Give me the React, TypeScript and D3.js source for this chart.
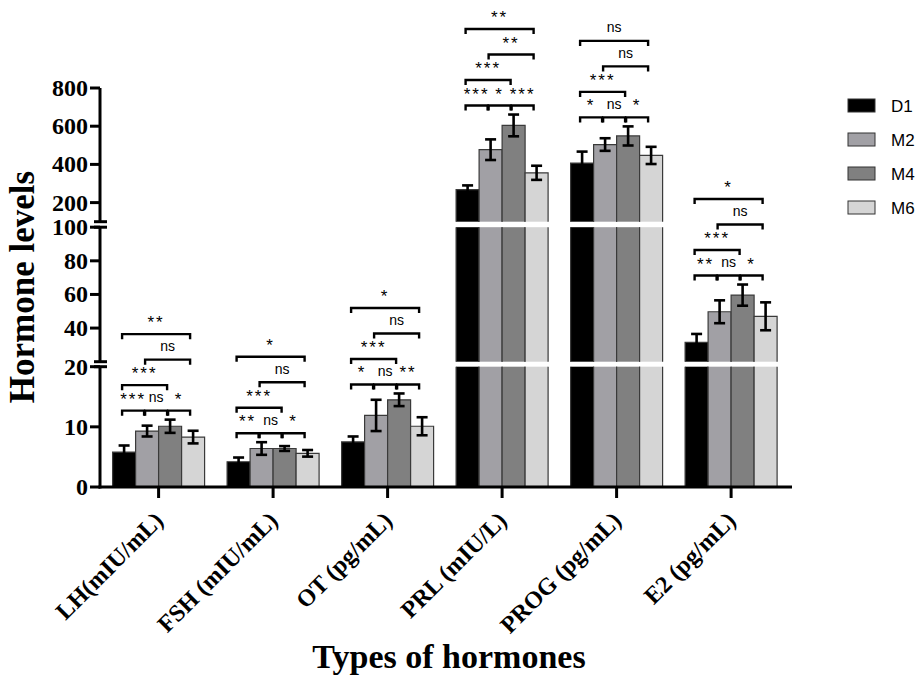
import * as d3 from "d3";

// chart data
const categories = ["LH(mIU/mL)", "FSH (mIU/mL)", "OT (pg/mL)", "PRL (mIU/L)", "PROG (pg/mL)", "E2 (pg/mL)"];
const series = ["D1", "M2", "M4", "M6"];
const meanD1 = [5.8, 4.2, 7.5, 268, 407, 31.5];
const meanM2 = [9.3, 6.4, 11.9, 477, 504, 49.7];
const meanM4 = [10.1, 6.4, 14.5, 604, 549, 59.6];
const meanM6 = [8.3, 5.6, 10.1, 356, 447, 47];
const errD1 = [1.1, 0.7, 0.9, 22, 60, 5];
const errM2 = [0.9, 1.05, 2.6, 54, 33, 6.8];
const errM4 = [1.1, 0.4, 1.05, 57, 50, 6.3];
const errM6 = [1.05, 0.55, 1.5, 37, 45, 8.3];
// comparisons: D1-M2, M2-M4, M4-M6, D1-M4, M2-M6, D1-M6
const pairs = [[0, 1, 0], [1, 2, 0], [2, 3, 0], [0, 2, 1], [1, 3, 2], [0, 3, 3]];
const sigLH = ["***", "ns", "*", "***", "ns", "**"];
const sigFSH = ["**", "ns", "*", "***", "ns", "*"];
const sigOT = ["*", "ns", "**", "***", "ns", "*"];
const sigPRL = ["***", "*", "***", "***", "**", "**"];
const sigPROG = ["*", "ns", "*", "***", "ns", "ns"];
const sigE2 = ["**", "ns", "*", "***", "ns", "*"];
const ticksBottom = [0, 10, 20];
const ticksMiddle = [40, 60, 80, 100];
const ticksTop = [200, 400, 600, 800];

const means = [meanD1, meanM2, meanM4, meanM6];
const errs = [errD1, errM2, errM4, errM6];
const sigs = [sigLH, sigFSH, sigOT, sigPRL, sigPROG, sigE2];
const colors = ["#000000", "#a1a0a5", "#808080", "#d5d5d5"];

const width = 919;
const height = 680;
const axisX = 100;

const yBot = d3.scaleLinear().domain([0, 20]).range([487, 366.7]);
const yMid = d3.scaleLinear().domain([20, 100]).range([361.7, 227.2]);
const yTop = d3.scaleLinear().domain([100, 800]).range([221.7, 88]);
const segments = [
  { lo: 0, hi: 20, s: yBot },
  { lo: 20, hi: 100, s: yMid },
  { lo: 100, hi: 800, s: yTop },
];
const yPos = (v: number) => (v <= 20 ? yBot(v) : v <= 100 ? yMid(v) : yTop(v));

const x0 = d3.scaleBand().domain(categories).range([100, 789.7]).paddingInner(0.1965).paddingOuter(0.11);
const x1 = d3.scaleBand().domain(series).range([0, x0.bandwidth()]);

const serif = "'Liberation Serif', 'Times New Roman', serif";
const sans = "'Liberation Sans', Arial, sans-serif";

export default function App() {
  const bw = x1.bandwidth();
  return (
    <svg width={width} height={height} style={{ position: "absolute", left: 0, top: 0, background: "#fff" }}>
      {/* bars */}
      {categories.map((c, ci) =>
        series.map((s, si) => {
          const v = means[si][ci];
          const xl = (x0(c) as number) + (x1(s) as number);
          return (
            <g key={c + s}>
              {segments
                .filter((seg) => v > seg.lo)
                .map((seg, k) => {
                  const top = Math.min(v, seg.hi);
                  const yt = seg.s(top);
                  const yb = seg.s(seg.lo);
                  const path = v <= seg.hi
                    ? `M${xl},${yb}V${yt}H${xl + bw}V${yb}`
                    : `M${xl},${yb}V${yt}M${xl + bw},${yt}V${yb}`;
                  return (
                    <g key={k}>
                      <rect x={xl} y={yt} width={bw} height={yb - yt} fill={colors[si]} />
                      <path d={path} fill="none" stroke="#3a3a3a" strokeWidth={1.2} />
                    </g>
                  );
                })}
            </g>
          );
        })
      )}

      {/* error bars */}
      {categories.map((c, ci) =>
        series.map((s, si) => {
          const v = means[si][ci];
          const e = errs[si][ci];
          const cx = (x0(c) as number) + (x1(s) as number) + bw / 2;
          const yh = yPos(v + e);
          const yl = yPos(v - e);
          return (
            <g key={"e" + c + s} stroke="#000" strokeWidth={2.6}>
              <line x1={cx} x2={cx} y1={yh} y2={yl} />
              <line x1={cx - 5.5} x2={cx + 5.5} y1={yh} y2={yh} />
              <line x1={cx - 5.5} x2={cx + 5.5} y1={yl} y2={yl} />
            </g>
          );
        })
      )}

      {/* significance brackets */}
      {categories.map((c, ci) => {
        const tops = series.map((_, si) => yPos(means[si][ci] + errs[si][ci]));
        const base = Math.min(...tops) - 9;
        const cxs = series.map((s) => (x0(c) as number) + (x1(s) as number) + bw / 2);
        return pairs.map(([a, b, lvl], pi) => {
          const ly = base - lvl * 25.5;
          const xa = cxs[a] - 2;
          const xb = cxs[b] - 3;
          const label = sigs[ci][pi];
          const star = label !== "ns";
          return (
            <g key={"b" + ci + pi}>
              <path d={`M${xa},${ly + 5}V${ly}H${xb}V${ly + 5}`} fill="none" stroke="#000" strokeWidth={2.4} />
              <text
                x={(xa + xb) / 2}
                y={star ? ly - 6 : ly - 8.5}
                textAnchor="middle"
                fontFamily={sans}
                fontSize={star ? 17 : 14}
                letterSpacing={star ? 2 : 0}
                fill="#000"
              >
                {label}
              </text>
            </g>
          );
        });
      })}

      {/* y axis segments */}
      <g stroke="#000" strokeWidth={3}>
        {segments.map((seg, k) => (
          <line key={"ax" + k} x1={axisX} x2={axisX} y1={k === 0 ? 488.5 : seg.s(seg.lo)} y2={seg.s(seg.hi)} />
        ))}
        {[yBot(20), yMid(20), yMid(100), yTop(100)].map((y, k) => (
          <line key={"cap" + k} x1={94} x2={107} y1={y} y2={y} />
        ))}
        {ticksBottom.map((t) => (
          <line key={"tb" + t} x1={90} x2={axisX} y1={yBot(t)} y2={yBot(t)} />
        ))}
        {ticksMiddle.map((t) => (
          <line key={"tm" + t} x1={90} x2={axisX} y1={yMid(t)} y2={yMid(t)} />
        ))}
        {ticksTop.map((t) => (
          <line key={"tt" + t} x1={90} x2={axisX} y1={yTop(t)} y2={yTop(t)} />
        ))}
      </g>
      <g fontFamily={serif} fontWeight="bold" fontSize={24} textAnchor="end" fill="#000">
        {ticksBottom.map((t) => (
          <text key={"lb" + t} x={88} y={yBot(t) + 8}>{t}</text>
        ))}
        {ticksMiddle.map((t) => (
          <text key={"lm" + t} x={88} y={yMid(t) + 8}>{t}</text>
        ))}
        {ticksTop.map((t) => (
          <text key={"lt" + t} x={88} y={yTop(t) + 8}>{t}</text>
        ))}
      </g>

      {/* x axis */}
      <line x1={axisX - 1.5} x2={792} y1={487} y2={487} stroke="#000" strokeWidth={3} />
      {categories.map((c) => {
        const cx = (x0(c) as number) + x0.bandwidth() / 2;
        return (
          <g key={"xt" + c}>
            <line x1={cx} x2={cx} y1={487} y2={498} stroke="#000" strokeWidth={3} />
            <text
              transform={`translate(${cx + 6},${522}) rotate(-45)`}
              textAnchor="end"
              fontFamily={serif}
              fontWeight="bold"
              fontSize={24}
              fill="#000"
            >
              {c}
            </text>
          </g>
        );
      })}

      {/* axis titles */}
      <text x={449} y={668} textAnchor="middle" fontFamily={serif} fontWeight="bold" fontSize={34} fill="#000">
        Types of hormones
      </text>
      <text
        transform="translate(34,287) rotate(-90)"
        textAnchor="middle"
        fontFamily={serif}
        fontWeight="bold"
        fontSize={35}
        fill="#000"
      >
        Hormone levels
      </text>

      {/* legend */}
      {series.map((s, si) => (
        <g key={"lg" + s}>
          <rect x={848} y={99 + si * 34} width={27} height={13} fill={colors[si]} stroke="#333" strokeWidth={1} />
          <text x={891} y={112 + si * 34} fontFamily={sans} fontSize={17} fill="#000">
            {s}
          </text>
        </g>
      ))}
    </svg>
  );
}
